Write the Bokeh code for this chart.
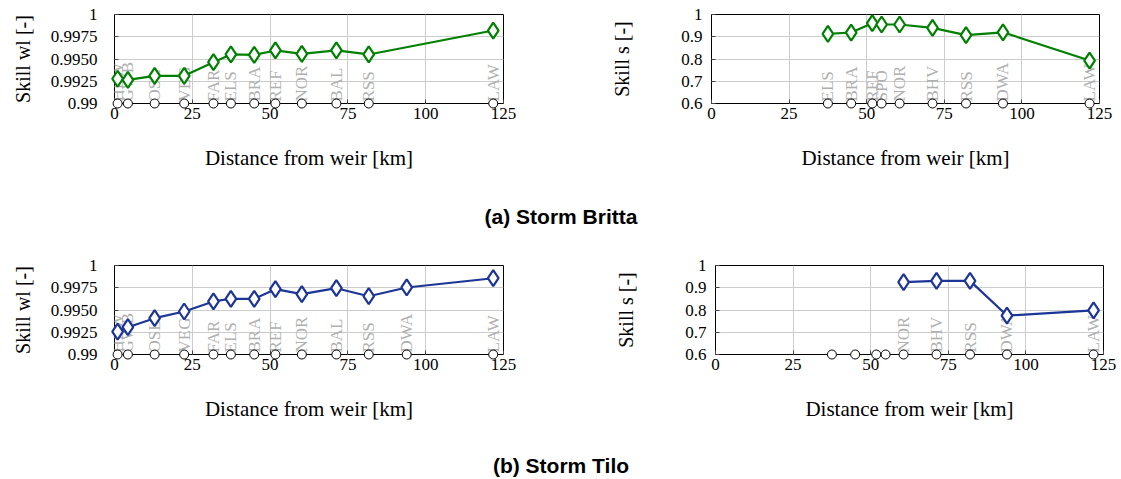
import math
from bokeh.plotting import figure
from bokeh.layouts import column, row
from bokeh.models import Range1d, FixedTicker, Label
from bokeh.core.properties import value
from bokeh.embed import file_html
from bokeh.resources import INLINE

nan = float("nan")

# ---- data ----
wl_stations = ["HEW", "GWB", "OSL", "VEG", "FAR", "ELS", "BRA", "REF", "NOR", "BAL", "RSS", "DWA", "LAW"]
wl_km = [1.0, 4.3, 12.9, 22.4, 31.8, 37.4, 44.9, 51.7, 60.2, 71.3, 81.7, 93.9, 121.7]
wl_britta = [0.99278, 0.99266, 0.99311, 0.99311, 0.99464, 0.99551, 0.99547, 0.99596,
             0.99558, 0.99596, 0.99551, nan, 0.99820]
wl_tilo = [0.99258, 0.99307, 0.99408, 0.99483, 0.99596, 0.99626, 0.99626, 0.99734,
           0.99678, 0.99745, 0.99655, 0.99753, 0.99857]

s_stations = ["ELS", "BRA", "REF", "SPO", "NOR", "BHV", "RSS", "DWA", "LAW"]
s_km = [37.5, 45.0, 51.8, 54.8, 60.6, 71.2, 82.0, 93.9, 121.8]
s_britta = [0.913, 0.919, 0.961, 0.955, 0.955, 0.940, 0.907, 0.920, 0.793]
s_tilo = [nan, nan, nan, nan, 0.925, 0.931, 0.931, 0.775, 0.798]

x_ticks = [0, 25, 50, 75, 100, 125]
wl_ticks = [0.99, 0.9925, 0.995, 0.9975, 1.0]
wl_tick_labels = ["0.99", "0.9925", "0.9950", "0.9975", "1"]
s_ticks = [0.6, 0.7, 0.8, 0.9, 1.0]
s_tick_labels = ["0.6", "0.7", "0.8", "0.9", "1"]

captions = ["(a) Storm Britta", "(b) Storm Tilo"]

GREEN = "#008000"
BLUE = "#1c3596"
SERIF = "Liberation Serif"


def panel(km, names, vals, ymin, ymax, ticks, tick_labels, ylab, color,
          all_circles, left, right, fw, ystand, ylstand):
    p = figure(output_backend="svg", toolbar_location=None,
               frame_width=fw, frame_height=89,
               x_range=Range1d(0, 125), y_range=Range1d(ymin, ymax),
               min_border_left=left, min_border_right=right,
               min_border_top=14, min_border_bottom=77)
    p.background_fill_color = "white"
    p.border_fill_color = "white"
    p.outline_line_color = "black"
    p.outline_line_width = 1
    p.xaxis.ticker = FixedTicker(ticks=x_ticks)
    p.yaxis.ticker = FixedTicker(ticks=ticks)
    p.yaxis.major_label_overrides = {t: l for t, l in zip(ticks, tick_labels)}
    p.xaxis.major_label_overrides = {t: str(t) for t in x_ticks}
    for ax in (p.xaxis[0], p.yaxis[0]):
        ax.axis_line_color = None
        ax.major_tick_in = 4
        ax.major_tick_out = 0
        ax.major_tick_line_color = "#444444"
        ax.minor_tick_line_color = None
        ax.major_label_text_font = SERIF
        ax.major_label_text_font_size = "17px"
        ax.major_label_text_color = "black"
        ax.axis_label_text_font = SERIF
        ax.axis_label_text_font_style = "normal"
        ax.axis_label_text_color = "black"
    p.xaxis.axis_label = "Distance from weir [km]"
    p.yaxis.axis_label = ylab
    p.xaxis.axis_label_text_font_size = "21px"
    p.yaxis.axis_label_text_font_size = "20px"
    p.xaxis.major_label_standoff = 4
    p.xaxis.axis_label_standoff = 24
    p.yaxis.major_label_standoff = ystand
    p.yaxis.axis_label_standoff = ylstand
    p.xgrid.grid_line_color = "#cccccc"
    p.ygrid.grid_line_color = "#cccccc"
    p.xgrid.grid_line_width = 1
    p.ygrid.grid_line_width = 1

    have = [i for i, v in enumerate(vals) if not math.isnan(v)]
    hx = [km[i] for i in have]
    hy = [vals[i] for i in have]
    hn = [names[i] for i in have]

    p.text(x=hx, y=[ymin] * len(hx), text=hn, angle=math.pi / 2,
           text_align="left", text_baseline="middle", y_offset=-2,
           text_font=value(SERIF), text_font_size="17px", text_color="#b0b0b0")

    cx = km if all_circles else hx
    p.scatter(x=cx, y=[ymin] * len(cx), marker="circle", size=9,
              fill_color="white", line_color="black", line_width=1, level="overlay")
    p.line(x=hx, y=hy, line_color=color, line_width=2.2, level="overlay")
    p.scatter(x=hx, y=hy, marker="diamond", size=16, fill_color="white",
              line_color=color, line_width=2.2, level="overlay")
    return p


def caption(text, w, h, yc):
    c = figure(output_backend="svg", toolbar_location=None, width=w, height=h,
               x_range=Range1d(0, 1), y_range=Range1d(0, 1),
               min_border=0)
    c.axis.visible = False
    c.grid.visible = False
    c.outline_line_color = None
    c.add_layout(Label(x=w / 2, y=yc, x_units="screen", y_units="screen", text=text,
                       text_align="center", text_baseline="middle",
                       text_font="Liberation Sans", text_font_style="bold",
                       text_font_size="21px", text_color="black"))
    return c


p1 = panel(wl_km, wl_stations, wl_britta, 0.99, 1.0, wl_ticks, wl_tick_labels,
           "Skill wl [-]", GREEN, False, 114, 57, 389, 17, 14)
p2 = panel(s_km, s_stations, s_britta, 0.6, 1.0, s_ticks, s_tick_labels,
           "Skill s [-]", GREEN, False, 151, 22, 388, 9, 45)
p3 = panel(wl_km, wl_stations, wl_tilo, 0.99, 1.0, wl_ticks, wl_tick_labels,
           "Skill wl [-]", BLUE, False, 114, 57, 389, 17, 14)
p4 = panel(s_km, s_stations, s_tilo, 0.6, 1.0, s_ticks, s_tick_labels,
           "Skill s [-]", BLUE, True, 155, 18, 388, 9, 45)
p3.min_border_bottom = 74
p4.min_border_bottom = 74

cap_a = caption(captions[0], 1121, 71, 35)
cap_b = caption(captions[1], 1121, 51, 14)

layout = column(row(p1, p2), cap_a, row(p3, p4), cap_b, spacing=0)

open("out.html", "w").write(file_html(layout, INLINE))
